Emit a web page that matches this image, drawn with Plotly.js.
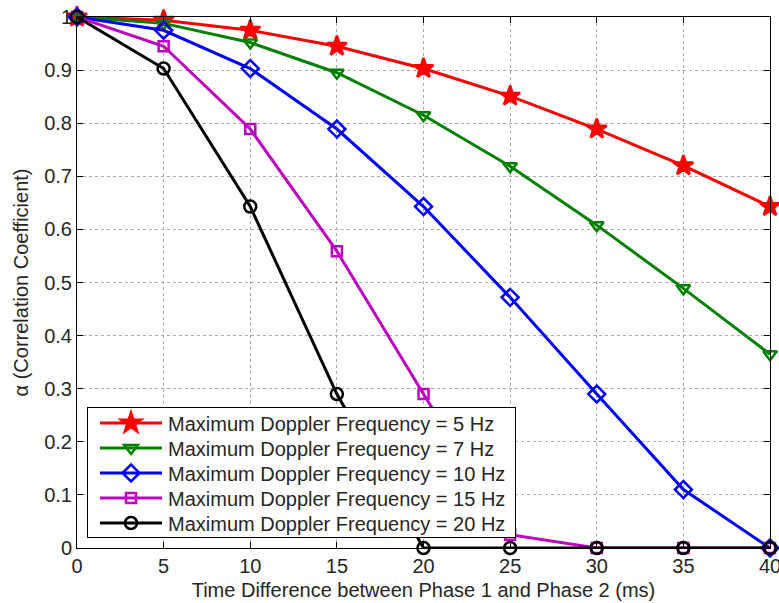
<!DOCTYPE html>
<html>
<head>
<meta charset="utf-8">
<script src="https://cdn.plot.ly/plotly-3.0.1.min.js"></script>
<style>html,body{margin:0;padding:0;background:#fff}#chart{width:779px;height:603px}</style>
</head>
<body>
<div id="chart"></div>
<script>
const timeMs = [0, 5, 10, 15, 20, 25, 30, 35, 40];
const fd5  = [1, 0.994, 0.975, 0.945, 0.903, 0.851, 0.789, 0.720, 0.643];
const fd7  = [1, 0.988, 0.952, 0.895, 0.815, 0.719, 0.608, 0.489, 0.365];
const fd10 = [1, 0.975, 0.903, 0.789, 0.643, 0.472, 0.290, 0.110, 0];
const fd15 = [1, 0.945, 0.789, 0.559, 0.290, 0.025, 0, 0, 0];
const fd20 = [1, 0.903, 0.643, 0.290, 0, 0, 0, 0, 0];
const seriesNames = [
  'Maximum Doppler Frequency = 5 Hz',
  'Maximum Doppler Frequency = 7 Hz',
  'Maximum Doppler Frequency = 10 Hz',
  'Maximum Doppler Frequency = 15 Hz',
  'Maximum Doppler Frequency = 20 Hz'
];
const xTicks = [0, 5, 10, 15, 20, 25, 30, 35, 40];
const yTicks = [0, 0.1, 0.2, 0.3, 0.4, 0.5, 0.6, 0.7, 0.8, 0.9, 1];
const yTickText = ['0', '0.1', '0.2', '0.3', '0.4', '0.5', '0.6', '0.7', '0.8', '0.9', '1'];

const styles = [
  {color: '#ff0000', symbol: 'star', size: 15},
  {color: '#008000', symbol: 'triangle-down-open', size: 12},
  {color: '#0000ff', symbol: 'diamond-open', size: 13},
  {color: '#bf00bf', symbol: 'square-open', size: 10},
  {color: '#000000', symbol: 'circle-open', size: 12}
];
const allY = [fd5, fd7, fd10, fd15, fd20];
const data = allY.map((y, i) => ({
  x: timeMs, y: y, name: seriesNames[i], type: 'scatter', mode: 'lines+markers',
  cliponaxis: false,
  line: {color: styles[i].color, width: 3},
  marker: {symbol: styles[i].symbol, size: styles[i].size, color: styles[i].color,
           line: {color: styles[i].color, width: 2.5}}
}));

const font = {family: 'Liberation Sans, Arial, Helvetica, sans-serif', size: 20, color: '#262626'};
const layout = {
  width: 779, height: 603,
  margin: {l: 77, r: 9, t: 17, b: 55},
  paper_bgcolor: '#fff', plot_bgcolor: '#fff',
  font: font,
  showlegend: true,
  legend: {x: 0.0144, y: 0.0207, xanchor: 'left', yanchor: 'bottom',
           bgcolor: '#fff', bordercolor: '#000', borderwidth: 1,
           font: {family: font.family, size: 20, color: '#262626'},
           tracegroupgap: 0, itemwidth: 60},
  xaxis: {range: [0, 40], tickvals: xTicks, ticks: 'inside', ticklen: 6, tickcolor: '#000',
          showline: true, linecolor: '#000', linewidth: 1, mirror: 'ticks',
          showgrid: true, gridcolor: '#aaa', griddash: 'dot', gridwidth: 1, zeroline: false,
          tickfont: font, ticklabeloverflow: 'allow',
          title: {text: 'Time Difference between Phase 1 and Phase 2 (ms)', standoff: 6, font: font}},
  yaxis: {range: [0, 1], tickvals: yTicks, ticktext: yTickText, ticks: 'inside', ticklen: 6, tickcolor: '#000',
          showline: true, linecolor: '#000', linewidth: 1, mirror: 'ticks',
          showgrid: true, gridcolor: '#aaa', griddash: 'dot', gridwidth: 1, zeroline: false,
          tickfont: font, ticklabeloverflow: 'allow',
          title: {text: 'α (Correlation Coefficient)', standoff: 10, font: font}}
};
Plotly.newPlot('chart', data, layout, {displayModeBar: false, staticPlot: true}).then(gd => {
  // MATLAB-style legend geometry: 25px rows, longer sample lines
  const leg = gd.querySelector('g.legend');
  if (!leg) return;
  const W = 428, H = 130;
  leg.setAttribute('transform', 'translate(87,407)');
  const bg = leg.querySelector('rect.bg');
  if (bg) { bg.setAttribute('width', W); bg.setAttribute('height', H); }
  gd.querySelectorAll('clipPath[id^="legend"] rect').forEach(r => {
    r.setAttribute('width', W); r.setAttribute('height', H);
  });
  const sb = leg.querySelector('g.scrollbox');
  if (sb) sb.setAttribute('transform', 'translate(0,0)');
  leg.querySelectorAll('g.traces').forEach((t, i) => {
    t.setAttribute('transform', 'translate(0,' + (16 + 25 * i) + ')');
    const txt = t.querySelector('text.legendtext');
    if (txt) txt.setAttribute('x', 81);
    t.querySelectorAll('.legendlines path').forEach(p => p.setAttribute('d', 'M13,0h62'));
    t.querySelectorAll('.legendpoints path').forEach(p => p.setAttribute('transform', 'translate(44,0)'));
  });
});
</script>
</body>
</html>
